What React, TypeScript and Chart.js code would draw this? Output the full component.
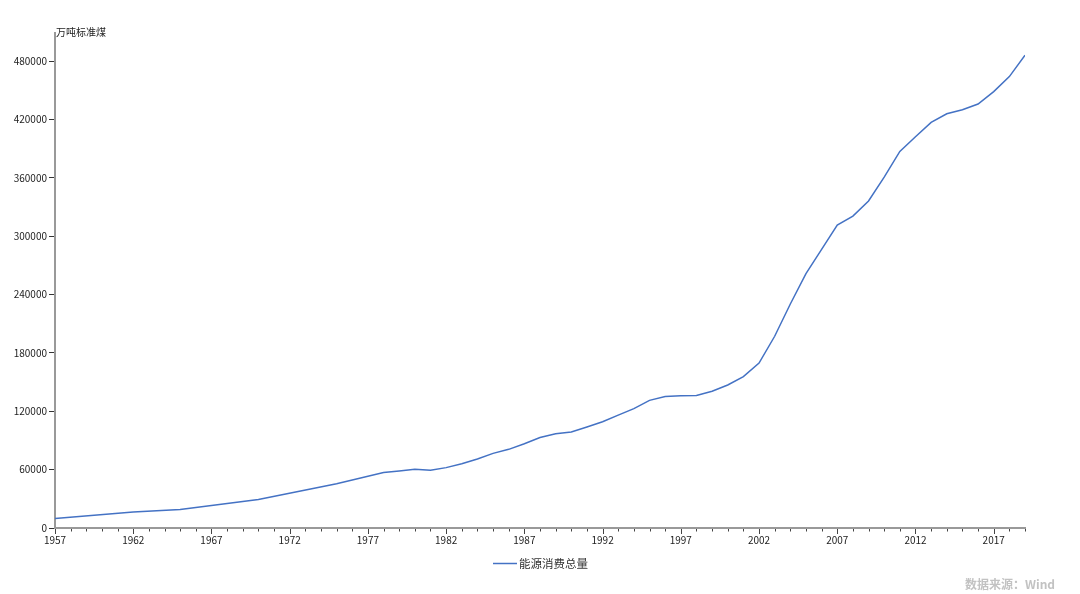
import React, { useEffect, useRef } from "react";
import { Chart, registerables } from "chart.js";

Chart.register(...registerables);

const years: number[] = [];
for (let y = 1957; y <= 2019; y++) years.push(y);

// 能源消费总量 (万吨标准煤); null where the source has no value
const consumption: (number | null)[] = [
  9644, null, null, null, null, 16540, null, null, 18901, null, null, null, null,
  29291, null, null, null, null, 45425, null, null, 57144, 58588, 60275,
  59447, 62067, 66040, 70904, 76682, 80850, 86632, 92997, 96934, 98703, 103783,
  109170, 115993, 122737, 131176, 135192, 135909, 136184, 140569, 146964, 155547,
  169577, 197083, 230281, 261369, 286467, 311442, 320611, 336126, 360648, 387043,
  402138, 416913, 425806, 429905, 435819, 448529, 464000, 486000,
];

const seriesName = "能源消费总量";
const unitLabel = "万吨标准煤";
const sourceLabel = "数据来源：Wind";
const yTicks = [0, 60000, 120000, 180000, 240000, 300000, 360000, 420000, 480000];

const LINE_COLOR = "#4472C4";
const FONT = "'Noto Sans CJK SC', 'Noto Sans', sans-serif";

export default function App() {
  const ref = useRef<HTMLCanvasElement | null>(null);

  useEffect(() => {
    document.body.style.margin = "0";
    const canvas = ref.current;
    if (!canvas) return;

    const decor = {
      id: "decor",
      afterDraw(chart: any) {
        const ctx = chart.ctx as CanvasRenderingContext2D;
        const xs = chart.scales.x;
        const area = chart.chartArea;
        ctx.save();
        // x tick marks: major every 5 years, minor each year
        ctx.strokeStyle = "#444";
        ctx.lineWidth = 1;
        for (const yr of years) {
          const px = Math.round(xs.getPixelForValue(yr)) + 0.5;
          const major = (yr - years[0]) % 5 === 0;
          ctx.beginPath();
          ctx.moveTo(px, area.bottom + 1);
          ctx.lineTo(px, area.bottom + (major ? 6 : 3.5));
          ctx.stroke();
        }
        // unit label
        ctx.fillStyle = "#222";
        ctx.font = `10px ${FONT}`;
        ctx.textAlign = "left";
        ctx.textBaseline = "middle";
        ctx.fillText(unitLabel, area.left + 1, 32);
        // legend
        ctx.strokeStyle = LINE_COLOR;
        ctx.lineWidth = 1.5;
        ctx.beginPath();
        ctx.moveTo(493, 563.5);
        ctx.lineTo(517, 563.5);
        ctx.stroke();
        ctx.fillStyle = "#333";
        ctx.font = `11.5px ${FONT}`;
        ctx.fillText(seriesName, 519, 564);
        // source
        ctx.fillStyle = "#c2c2c2";
        ctx.font = `bold 12px ${FONT}`;
        ctx.fillText(sourceLabel, 965, 584);
        ctx.restore();
      },
    };

    const chart = new Chart(canvas, {
      type: "line",
      data: {
        labels: years,
        datasets: [
          {
            label: seriesName,
            data: years.map((y, i) => ({ x: y, y: consumption[i] as any })),
            borderColor: LINE_COLOR,
            backgroundColor: LINE_COLOR,
            borderWidth: 1.5,
            pointRadius: 0,
            tension: 0,
            spanGaps: true,
            fill: false,
          },
        ],
      },
      options: {
        animation: false,
        responsive: false,
        events: [],
        layout: { padding: { left: 0, right: 55, top: 33, bottom: 0 } },
        plugins: {
          legend: { display: false },
          tooltip: { enabled: false },
          title: { display: false },
        },
        scales: {
          x: {
            type: "linear",
            min: years[0],
            max: years[years.length - 1],
            afterFit: (s: any) => {
              s.height = 66;
            },
            afterBuildTicks: (s: any) => {
              s.ticks = years.map((v) => ({ value: v }));
            },
            ticks: {
              autoSkip: false,
              maxRotation: 0,
              padding: 0,
              color: "#222",
              font: { size: 10, family: FONT },
              callback: (v: any) => ((Number(v) - years[0]) % 5 === 0 ? String(v) : ""),
            },
            grid: {
              display: true,
              drawOnChartArea: false,
              drawTicks: true,
              tickLength: 6,
              tickColor: "rgba(0,0,0,0)",
            },
            border: { display: true, color: "#999", width: 2 },
          },
          y: {
            type: "linear",
            min: 0,
            max: 508800,
            afterFit: (s: any) => {
              s.width = 55;
            },
            afterBuildTicks: (s: any) => {
              s.ticks = yTicks.map((v) => ({ value: v }));
            },
            ticks: {
              padding: 2,
              color: "#222",
              font: { size: 10, family: FONT },
              callback: (v: any) => String(v),
            },
            grid: {
              display: true,
              drawOnChartArea: false,
              drawTicks: true,
              tickLength: 6,
              tickColor: "#333",
            },
            border: { display: true, color: "#999", width: 2 },
          },
        },
      },
      plugins: [decor],
    });

    return () => chart.destroy();
  }, []);

  return (
    <div style={{ position: "fixed", left: 0, top: 0, width: 1080, height: 594, background: "#fff" }}>
      <canvas ref={ref} width={1080} height={594} style={{ display: "block" }} />
    </div>
  );
}
